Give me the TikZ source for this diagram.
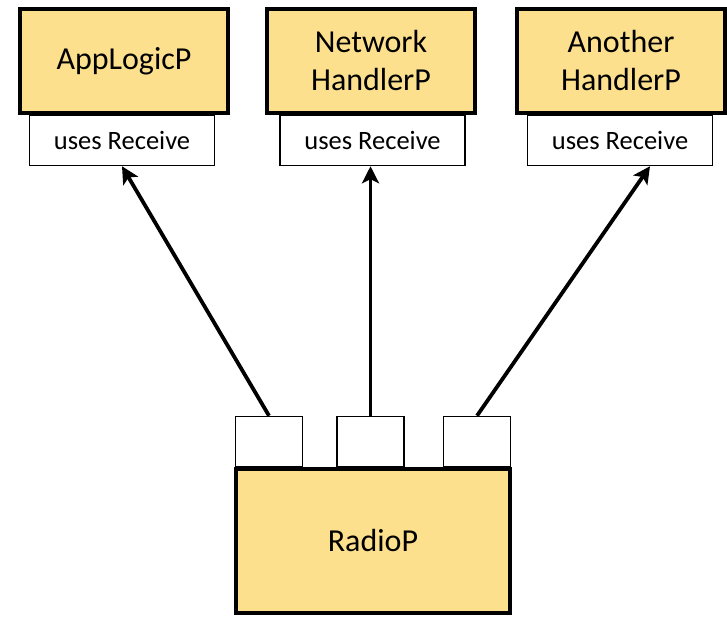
\documentclass[tikz,border=0pt]{standalone}
\usepackage{fontspec}
\setmainfont{Carlito}
\usetikzlibrary{arrows.meta}
\definecolor{compfill}{HTML}{FDE08D}
\tikzset{
  comp/.style={draw=black, line width=4pt, fill=compfill, rectangle, inner sep=0pt,
    minimum width=208pt, minimum height=104pt, align=center,
    font=\fontsize{32}{38}\selectfont},
  iface/.style={draw=black, line width=1.5pt, fill=white, rectangle, inner sep=0pt,
    minimum width=185pt, minimum height=50pt,
    font=\fontsize{26.5}{31}\selectfont},
  port/.style={draw=black, line width=1.5pt, fill=white, rectangle, inner sep=0pt,
    minimum width=67pt, minimum height=50pt},
  wire/.style={line width=3.8pt, -{Stealth[length=17pt,width=17pt,inset=4pt]}}
}
\begin{document}
\begin{tikzpicture}[x=1pt,y=-1pt]
  \useasboundingbox (0,0) rectangle (727,617);
  % interface labels under the user components
  \node[iface] (u1) at (122,140.5) {uses Receive};
  \node[iface] (u2) at (372.5,140.5) {uses Receive};
  \node[iface] (u3) at (620,140.5) {uses Receive};
  % user components
  \node[comp] (app) at (124,61) {AppLogicP};
  \node[comp] (net) at (371,61) {Network\\HandlerP};
  \node[comp] (oth) at (621,61) {Another\\HandlerP};
  % provider ports and component
  \node[port] (p1) at (269,441.5) {};
  \node[port] (p2) at (370.5,441.5) {};
  \node[port] (p3) at (477,441.5) {};
  \node[comp, minimum width=274pt, minimum height=144pt] (radio) at (373,541) {RadioP};
  % wiring
  \draw[wire] (p1.north) -- (u1.south);
  \draw[wire] (p2.north) -- (p2.north |- u2.south);
  \draw[wire] (p3.north) -- ([xshift=30pt]u3.south);
\end{tikzpicture}
\end{document}
